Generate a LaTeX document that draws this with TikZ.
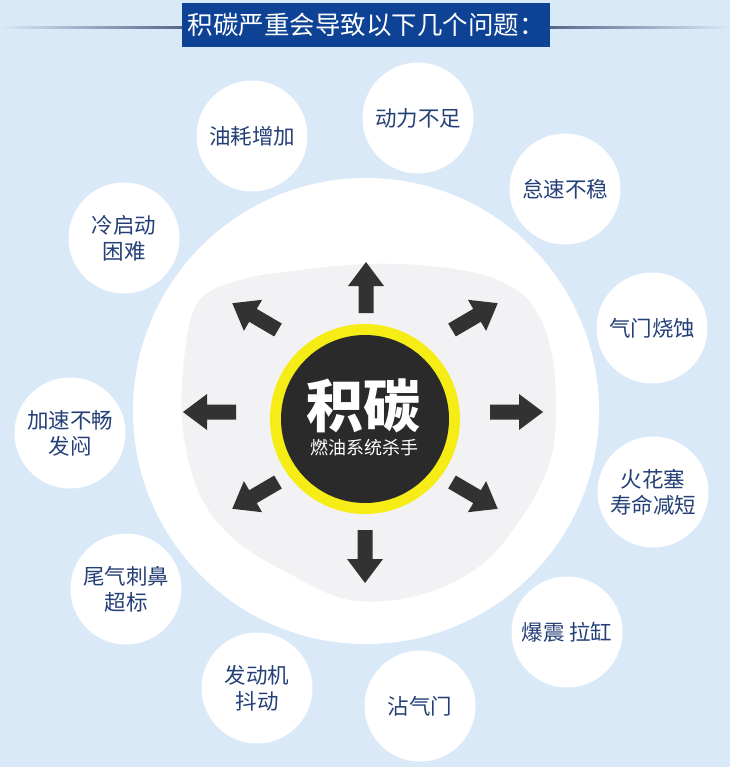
\documentclass[tikz,border=0pt]{standalone}
\usepackage{fontspec}
\newfontfamily\cjk{Noto Sans CJK SC}
\definecolor{bgc}{RGB}{217,233,248}
\definecolor{barc}{RGB}{14,66,148}
\definecolor{linec}{RGB}{85,105,135}
\definecolor{txtc}{RGB}{36,64,118}
\definecolor{blobc}{RGB}{242,242,244}
\definecolor{ringc}{RGB}{246,236,22}
\definecolor{darkc}{RGB}{42,42,42}
\definecolor{arrowc}{RGB}{50,50,50}
\newcommand\blkarrow[3]{%
  \fill[arrowc, shift={(#1)}, rotate=#2]
    (0,-7.5) -- ({#3-24},-7.5) -- ({#3-24},-18) -- (#3,0) -- ({#3-24},18) -- ({#3-24},7.5) -- (0,7.5) -- cycle;}
\begin{document}
\begin{tikzpicture}[x=1pt,y=-1pt,
  bubble/.style={circle, fill=white, minimum size=111pt, inner sep=0pt, align=center,
     text=txtc, font=\cjk\fontsize{21.5}{26}\selectfont}]
\useasboundingbox (0,0) rectangle (730,767);
\fill[bgc] (0,0) rectangle (730,767);
% title
\shade[left color=bgc, right color=linec] (0,27) rectangle (182,29);
\shade[left color=linec, right color=bgc] (550,27) rectangle (730,29);
\node[fill=barc, minimum width=368pt, minimum height=44pt, inner sep=0pt, text=white,
  font=\cjk\fontsize{25.5}{30}\selectfont] (title) at (366,25) {积碳严重会导致以下几个问题：};
% big circle
\node[circle, fill=white, minimum size=466pt, inner sep=0pt] (big) at (366,411) {};
% blob
\fill[blobc] plot[smooth cycle, tension=0.6] coordinates {
 (198,302) (240,280) (300,270) (365,264) (430,266) (490,277) (530,302) (551,350)
 (556,420) (547,470) (520,520) (480,566) (420,595) (350,600) (290,574) (235,540)
 (200,495) (183,430) (184,360)};
% arrows
\blkarrow{366,313}{90}{51}
\blkarrow{365,530}{270}{53}
\blkarrow{236,412}{180}{53}
\blkarrow{490,412}{0}{53}
\blkarrow{278,330}{149.6}{53}
\blkarrow{452,330}{30.4}{53}
\blkarrow{278,482}{210.4}{53}
\blkarrow{452,482}{-30.4}{53}
% center
\node[circle, fill=ringc, minimum size=190pt, inner sep=0pt] (ring) at (365,419) {};
\node[circle, fill=darkc, minimum size=168pt, inner sep=0pt] (core) at (365,419) {};
\node[text=white, font=\cjk\bfseries\fontsize{57}{60}\selectfont, inner sep=0pt] (jt) at (363,406) {积碳};
\node[text=white, font=\cjk\fontsize{18}{20}\selectfont, inner sep=0pt] (sub) at (364,448) {燃油系统杀手};
% bubbles
\node[bubble] (b1) at (252,136) {油耗增加};
\node[bubble] (b2) at (418,118) {动力不足};
\node[bubble] (b3) at (565,189) {怠速不稳};
\node[bubble] (b4) at (124,238) {冷启动\\困难};
\node[bubble] (b5) at (652,328) {气门烧蚀};
\node[bubble] (b6) at (70,433) {加速不畅\\发闷};
\node[bubble] (b7) at (653,492) {火花塞\\寿命减短};
\node[bubble] (b8) at (126,589) {尾气刺鼻\\超标};
\node[bubble] (b9) at (567,632) {爆震\ 拉缸};
\node[bubble] (b10) at (257,688) {发动机\\抖动};
\node[bubble] (b11) at (420,706) {沾气门};
\end{tikzpicture}
\end{document}
